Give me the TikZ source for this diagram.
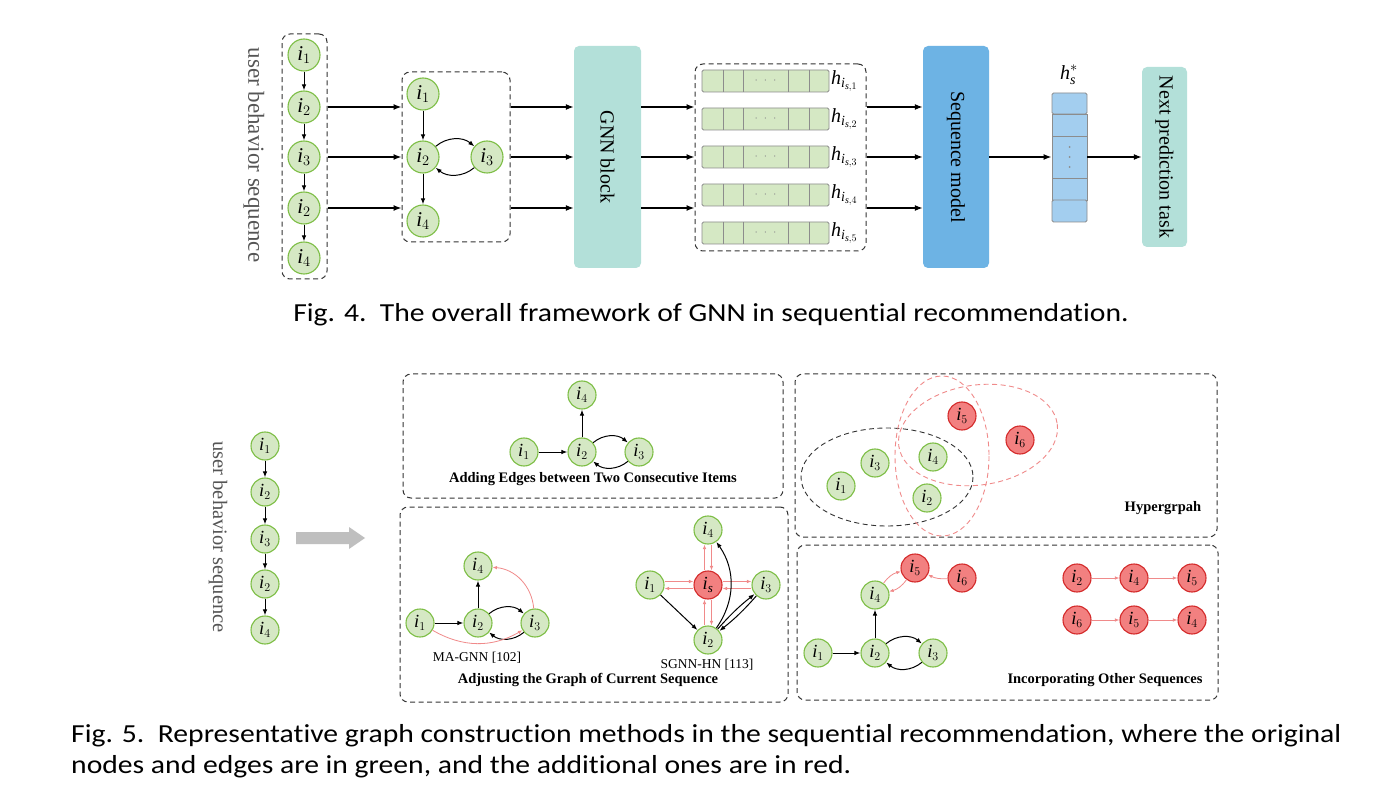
\documentclass[tikz,border=0pt]{standalone}
\usepackage{amsmath}
\usepackage{fontspec}
\setmainfont{Liberation Serif}
\newfontfamily\capfont[FakeStretch=1.14, Ligatures=NoCommon]{Carlito}
\usetikzlibrary{arrows.meta,calc}
\definecolor{gfill}{HTML}{D5E8C4}
\definecolor{gdraw}{HTML}{7DBE45}
\definecolor{rfill}{HTML}{F28080}
\definecolor{rdraw}{HTML}{D42A2A}
\definecolor{redge}{HTML}{F08A8A}
\definecolor{tealbox}{HTML}{B3E0D9}
\definecolor{seqblue}{HTML}{6DB3E4}
\definecolor{vecblue}{HTML}{A3CEEF}
\definecolor{cellgray}{HTML}{8C8C8C}
\definecolor{txtgray}{HTML}{555555}
\definecolor{bigarrow}{HTML}{BFBFBF}
% item symbol: italic i with an upright index
\newcommand\itm[1]{$\textit{i}_{#1}$}
\tikzset{
  gn/.style={circle, draw=gdraw, fill=gfill, line width=1.1pt, minimum size=32pt, inner sep=0pt, font=\fontsize{21}{21}\selectfont},
  gs/.style={gn, minimum size=28pt, font=\fontsize{18.5}{18.5}\selectfont},
  rs/.style={gs, draw=rdraw, fill=rfill},
  dbox/.style={draw=black!80, dash pattern=on 5pt off 3.5pt, rounded corners=8pt, line width=1pt, inner sep=0pt},
  bigarr/.style={-{Latex[length=8pt,width=6pt]}, line width=1.4pt},
  arr/.style={-{Latex[length=6pt,width=4.5pt]}, line width=1pt},
  rarr/.style={-{Latex[length=4.5pt,width=3.5pt]}, line width=0.8pt, draw=redge, color=redge},
  block/.style={rounded corners=5pt, inner sep=0pt},
  vtext/.style={rotate=-90, font=\fontsize{20}{20}\selectfont},
  bar/.style={draw=cellgray, fill=gfill, line width=0.9pt, rounded corners=1.5pt, minimum width=127pt, minimum height=22pt, inner sep=0pt},
  vcell/.style={draw=cellgray, fill=vecblue, line width=0.9pt, minimum width=35pt, inner sep=0pt},
  plabel/.style={font=\fontsize{14.5}{14.5}\selectfont\bfseries},
  mlabel/.style={font=\fontsize{13.5}{13.5}\selectfont},
  captext/.style={font=\capfont\fontsize{26}{26}\selectfont, inner sep=0pt},
}
\begin{document}
\begin{tikzpicture}[x=1pt,y=-1pt]
\useasboundingbox[fill=white] (0,0) rectangle (1376,799);

% ---------- framework: input sequence ----------
\node[vtext, font=\fontsize{23}{23}\selectfont, text=txtgray] (ubsA) at (254,155) {user behavior sequence};
\node[dbox, minimum width=45pt, minimum height=245pt] (lbox) at (304.5,156.5) {};
\node[gn] (a1) at (304,55) {\itm1};
\node[gn] (a2) at (304,107) {\itm2};
\node[gn] (a3) at (304,157) {\itm3};
\node[gn] (a4) at (304,208) {\itm2};
\node[gn] (a5) at (304,258) {\itm4};
\foreach \p/\q in {a1/a2,a2/a3,a3/a4,a4/a5} \draw[arr] (\p) -- (\q);

% ---------- session graph ----------
\node[dbox, minimum width=108pt, minimum height=170pt] (mbox) at (456,157) {};
\node[gn] (b1) at (423,94) {\itm1};
\node[gn] (b2) at (423,157) {\itm2};
\node[gn] (b3) at (487,157) {\itm3};
\node[gn] (b4) at (423,221) {\itm4};
\draw[arr] (b1) -- (b2);
\draw[arr] (b2) -- (b4);
\draw[arr] (b2) to[bend left=40] (b3);
\draw[arr] (b3) to[bend left=40] (b2);

\foreach \r in {a2,a3,a4} \draw[bigarr] (lbox.east |- \r) -- (mbox.west |- \r);

% ---------- GNN block ----------
\node[block, fill=tealbox, minimum width=67pt, minimum height=222pt] (gnn) at (607.5,157) {};
\node[vtext] (gnnt) at (gnn.center) {GNN block};
\foreach \r in {a2,a3,a4} \draw[bigarr] (mbox.east |- \r) -- (gnn.west |- \r);

% ---------- item embeddings ----------
\node[dbox, minimum width=171pt, minimum height=187pt] (ebox) at (780.5,157.5) {};
\foreach \k/\yy in {1/81,2/119,3/157,4/195,5/233} {
  \node[bar] (bar\k) at (765.5,\yy) {};
  \foreach \xx in {723,743,788,809} \draw[cellgray, line width=0.9pt] (\xx,\yy-11) -- (\xx,\yy+11);
  \node[text=cellgray, font=\fontsize{12}{12}\selectfont] (dots\k) at (765.5,\yy) {$\cdot\;\cdot\;\cdot$};
  \node[anchor=west, inner sep=1.5pt, font=\fontsize{20}{20}\selectfont] (hl\k) at (bar\k.east) {$\textit{h}_{\textit{i}_{\textit{s},\k}}$};
}
\foreach \r in {a2,a3,a4} \draw[bigarr] (gnn.east |- \r) -- (ebox.west |- \r);

% ---------- sequence model ----------
\node[block, fill=seqblue, minimum width=66pt, minimum height=222pt] (seq) at (956,157) {};
\node[vtext] (seqt) at (seq.center) {Sequence model};
\foreach \r in {a2,a3,a4} \draw[bigarr] (ebox.east |- \r) -- (seq.west |- \r);

% ---------- session representation ----------
\node[vcell, minimum height=21pt, rounded corners=1.5pt] (v1) at (1069.5,103.5) {};
\node[vcell, minimum height=22pt] (v2) at (1069.5,125) {};
\node[vcell, minimum height=42pt] (v3) at (1069.5,157) {};
\node[vcell, minimum height=22pt] (v4) at (1069.5,189) {};
\node[vcell, minimum height=22pt, rounded corners=1.5pt] (v5) at (1069.5,211) {};
\foreach \yy in {147,157,167} \fill[cellgray] (1069.5,\yy) circle (1pt);
\node[font=\fontsize{20}{20}\selectfont] (hs) at (1069,75) {$\textit{h}_{\textit{s}}^{*}$};
\draw[bigarr] (seq.east |- v3) -- (v3.west);

% ---------- prediction ----------
\node[block, fill=tealbox, minimum width=45pt, minimum height=180pt] (nxt) at (1164.5,157) {};
\node[vtext] (nxtt) at (nxt.center) {Next prediction task};
\draw[bigarr] (v3.east) -- (nxt.west |- v3);

\node[captext, anchor=base] (cap4) at (711,322) {Fig. 4.\ \ The overall framework of GNN in sequential recommendation.};

% ================= graph construction methods =================
\node[vtext, font=\fontsize{20.5}{20.5}\selectfont, text=txtgray] (ubsB) at (218,537) {user behavior sequence};
\node[gs] (c1) at (265,446) {\itm1};
\node[gs] (c2) at (265,492) {\itm2};
\node[gs] (c3) at (265,539) {\itm3};
\node[gs] (c4) at (265,584) {\itm2};
\node[gs] (c5) at (265,630) {\itm4};
\foreach \p/\q in {c1/c2,c2/c3,c3/c4,c4/c5} \draw[arr] (\p) -- (\q);
\fill[bigarrow] (296,532) -- (349,532) -- (349,527) -- (365,538) -- (349,549) -- (349,544) -- (296,544) -- cycle;

% ---- consecutive items ----
\node[dbox, minimum width=380pt, minimum height=124pt] (pA) at (593,436) {};
\node[gs] (d4) at (582,395) {\itm4};
\node[gs] (d1) at (524,452) {\itm1};
\node[gs] (d2) at (582,452) {\itm2};
\node[gs] (d3) at (639,452) {\itm3};
\draw[arr] (d1) -- (d2);
\draw[arr] (d2) -- (d4);
\draw[arr] (d2) to[bend left=40] (d3);
\draw[arr] (d3) to[bend left=40] (d2);
\node[plabel] (lA) at (593,479) {Adding Edges between Two Consecutive Items};

% ---- adjusting current sequence ----
\node[dbox, minimum width=388pt, minimum height=195pt] (pB) at (594,604.5) {};
\node[gs] (e4) at (478,566) {\itm4};
\node[gs] (e1) at (420,623) {\itm1};
\node[gs] (e2) at (478,623) {\itm2};
\node[gs] (e3) at (535,623) {\itm3};
\draw[arr] (e1) -- (e2);
\draw[arr] (e2) -- (e4);
\draw[arr] (e2) to[bend left=40] (e3);
\draw[arr] (e3) to[bend left=40] (e2);
\draw[rarr] (e3) to[bend right=40] (e4);
\draw[rarr] (e1) to[bend right=30] (e3);
\node[mlabel] (lMA) at (477,658) {MA-GNN [102]};

\node[gs] (f4) at (708,530) {\itm4};
\node[gs] (f1) at (650,585) {\itm1};
\node[rs] (fs) at (708,585) {$\textit{i}_{\textit{s}}$};
\node[gs] (f3) at (766,585) {\itm3};
\node[gs] (f2) at (708,640) {\itm2};
\draw[rarr] ([yshift=3.5pt]f1.east) -- ([yshift=3.5pt]fs.west);
\draw[rarr] ([yshift=-3.5pt]fs.west) -- ([yshift=-3.5pt]f1.east);
\draw[rarr] ([yshift=3.5pt]fs.east) -- ([yshift=3.5pt]f3.west);
\draw[rarr] ([yshift=-3.5pt]f3.west) -- ([yshift=-3.5pt]fs.east);
\draw[rarr] ([xshift=-3.5pt]fs.north) -- ([xshift=-3.5pt]f4.south);
\draw[rarr] ([xshift=3.5pt]f4.south) -- ([xshift=3.5pt]fs.north);
\draw[rarr] ([xshift=-3.5pt]f2.north) -- ([xshift=-3.5pt]fs.south);
\draw[rarr] ([xshift=3.5pt]fs.south) -- ([xshift=3.5pt]f2.north);
\draw[arr] (f1) -- (f2);
\draw[arr] (f2) to[bend left=5] (f3);
\draw[arr] (f3) to[bend left=5] (f2);
\draw[arr] (f2) to[bend right=35] (f4);
\node[mlabel] (lSG) at (707,665) {SGNN-HN [113]};
\node[plabel] (lB) at (588,680) {Adjusting the Graph of Current Sequence};

% ---- hypergraph ----
\node[dbox, minimum width=422pt, minimum height=163pt] (pC) at (1006,455.5) {};
\draw[black!80, dash pattern=on 5pt off 3.5pt, line width=0.9pt] (887,477) ellipse [x radius=86, y radius=49];
\draw[redge, dash pattern=on 5pt off 3.5pt, line width=0.9pt] (942,456) ellipse [x radius=47, y radius=80];
\draw[redge, dash pattern=on 5pt off 3.5pt, line width=0.9pt, rotate around={8:(978,435)}] (978,435) ellipse [x radius=80, y radius=50];
\node[gs] (h1) at (841,486) {\itm1};
\node[gs] (h3) at (875,463) {\itm3};
\node[gs] (h4) at (933,457) {\itm4};
\node[gs] (h2) at (927,498) {\itm2};
\node[rs] (h5) at (962,416) {\itm5};
\node[rs] (h6) at (1020,440) {\itm6};
\node[plabel] (lC) at (1163,508) {Hypergrpah};

% ---- other sequences ----
\node[dbox, minimum width=421pt, minimum height=155pt] (pD) at (1007.5,622.5) {};
\node[gs] (k1) at (818,653) {\itm1};
\node[gs] (k2) at (875,653) {\itm2};
\node[gs] (k3) at (933,653) {\itm3};
\node[gs] (k4) at (875,595) {\itm4};
\node[rs] (k5) at (915,568) {\itm5};
\node[rs] (k6) at (962,578) {\itm6};
\draw[arr] (k1) -- (k2);
\draw[arr] (k2) -- (k4);
\draw[arr] (k2) to[bend left=40] (k3);
\draw[arr] (k3) to[bend left=40] (k2);
\draw[rarr] (k4) to[bend left=20] (k5);
\draw[rarr] (k5) to[bend left=20] (k4);
\draw[rarr] (k6) to[bend left=15] (k5);
\node[rs] (s12) at (1077,578) {\itm2};
\node[rs] (s14) at (1134,578) {\itm4};
\node[rs] (s15) at (1192,578) {\itm5};
\node[rs] (s26) at (1077,620) {\itm6};
\node[rs] (s25) at (1134,620) {\itm5};
\node[rs] (s24) at (1192,620) {\itm4};
\draw[rarr] (s12) -- (s14);
\draw[rarr] (s14) -- (s15);
\draw[rarr] (s26) -- (s25);
\draw[rarr] (s25) -- (s24);
\node[plabel] (lD) at (1105,680) {Incorporating Other Sequences};

\node[captext, anchor=base west] (cap5a) at (71,742) {Fig. 5.\ \ Representative graph construction methods in the sequential recommendation, where the original};
\node[captext, anchor=base west] (cap5b) at (71,773) {nodes and edges are in green, and the additional ones are in red.};
\end{tikzpicture}
\end{document}
